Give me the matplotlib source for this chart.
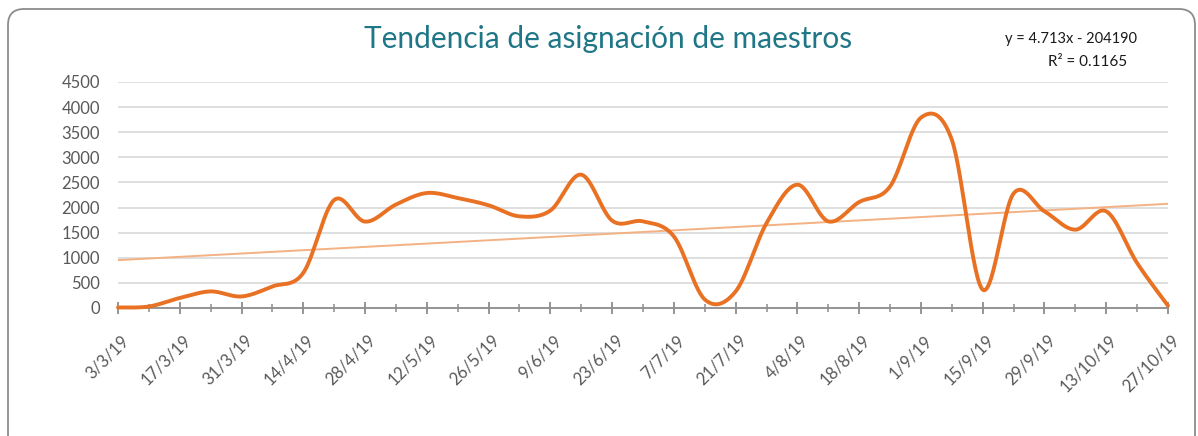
import datetime as dt
import matplotlib
matplotlib.use("Agg")
import matplotlib.pyplot as plt
import matplotlib.dates as mdates
import numpy as np
from matplotlib.patches import FancyBboxPatch
from matplotlib.transforms import ScaledTranslation

# weekly data, 3/3/2019 .. 27/10/2019
start = dt.date(2019, 3, 3)
weeks = [start + dt.timedelta(days=7 * i) for i in range(35)]
asignaciones = [10, 30, 200, 330, 230, 430, 700, 2150, 1720, 2060,
                2290, 2190, 2045, 1825, 1940, 2655, 1740, 1725, 1425, 170,
                330, 1690, 2455, 1725, 2110, 2420, 3790, 3350, 365, 2280,
                1925, 1560, 1925, 895, 45]

# Excel trendline shown on the chart
slope = 4.713
intercept = -204190
r2 = 0.1165

title = "Tendencia de asignación de maestros"


def smooth(x, y, n=30):
    # bezier smoothing like Excel's "smoothed line"
    x = np.asarray(x, float)
    y = np.asarray(y, float)
    px = np.concatenate([[x[0]], x, [x[-1]]])
    py = np.concatenate([[y[0]], y, [y[-1]]])
    xs, ys = [], []
    t = np.linspace(0, 1, n)
    for i in range(1, len(px) - 2):
        p0 = np.array([px[i], py[i]])
        p3 = np.array([px[i + 1], py[i + 1]])
        p1 = p0 + (np.array([px[i + 1], py[i + 1]]) - np.array([px[i - 1], py[i - 1]])) / 6
        p2 = p3 - (np.array([px[i + 2], py[i + 2]]) - np.array([px[i], py[i]])) / 6
        b = ((1 - t) ** 3)[:, None] * p0 + (3 * (1 - t) ** 2 * t)[:, None] * p1 \
            + (3 * (1 - t) * t ** 2)[:, None] * p2 + (t ** 3)[:, None] * p3
        xs.extend(b[:, 0])
        ys.extend(b[:, 1])
    return np.array(xs), np.array(ys)


plt.rcParams['font.family'] = ['Lato', 'DejaVu Sans']

fig = plt.figure(figsize=(11.98, 4.36), dpi=100)
W, H = 1198, 436

# rounded chart border (in inches, bottom edge runs off the canvas)
border = FancyBboxPatch((8 / 100, -0.15), 1187 / 100, (H - 9) / 100 + 0.15,
                        boxstyle="round,pad=0,rounding_size=0.16",
                        transform=fig.dpi_scale_trans, fill=False,
                        edgecolor="#8c8c8c", linewidth=1.3)
fig.patches.append(border)

ax = fig.add_axes([118 / W, (H - 308) / H, 1050 / W, 226 / H])

xnum = mdates.date2num(weeks)
sx, sy = smooth(xnum, asignaciones)
ax.plot(sx, sy, color="#E97123", linewidth=2.8, solid_capstyle="round",
        clip_on=False, zorder=3)

# trendline from the Excel equation (x = Excel serial date)
serial = np.array([(d - dt.date(1899, 12, 30)).days for d in weeks], float)
ax.plot(xnum, slope * serial + intercept, color="#F4B183", linewidth=1.4,
        zorder=2)

ax.set_xlim(xnum[0], xnum[-1])
ax.set_ylim(0, 4500)
ax.set_yticks(np.arange(0, 4501, 500))
ax.yaxis.grid(True, color="#d9d9d9", linewidth=1.2)
ax.set_axisbelow(True)

for s in ["top", "right", "left"]:
    ax.spines[s].set_visible(False)
ax.spines["bottom"].set_color("#8c8c8c")
ax.spines["bottom"].set_linewidth(1.3)
ax.spines["bottom"].set_zorder(2.5)

ax.set_xticks(xnum[::2])
ax.set_xticks(xnum, minor=True)
ax.set_xticklabels([f"{d.day}/{d.month}/{d.strftime('%y')}" for d in weeks[::2]],
                   rotation=45, ha="right", va="center", rotation_mode="anchor")
ax.tick_params(axis="x", which="major", direction="inout", length=9,
               width=1.3, color="#8c8c8c", labelsize=12, labelcolor="#595959",
               pad=17)
ax.tick_params(axis="x", which="minor", direction="inout", length=6,
               width=1.1, color="#8c8c8c")
ax.tick_params(axis="y", length=0, labelsize=12, labelcolor="#595959", pad=13)
off = ScaledTranslation(6 / 72, 0, fig.dpi_scale_trans)
for lab in ax.get_xticklabels():
    lab.set_transform(lab.get_transform() + off)

fig.text(608 / W, 1 - 39 / H, title, ha="center", va="center",
         fontsize=21.5, color="#1F7686")
fig.text(1137 / W, 1 - 39 / H, f"y = {slope}x - {abs(intercept)}",
         ha="right", va="center", fontsize=10.5, color="#1a1a1a")
fig.text(1088 / W, 1 - 62 / H, f"R² = {r2}", ha="center", va="center",
         fontsize=11, color="#1a1a1a")

fig.savefig("out.png", dpi=100)
